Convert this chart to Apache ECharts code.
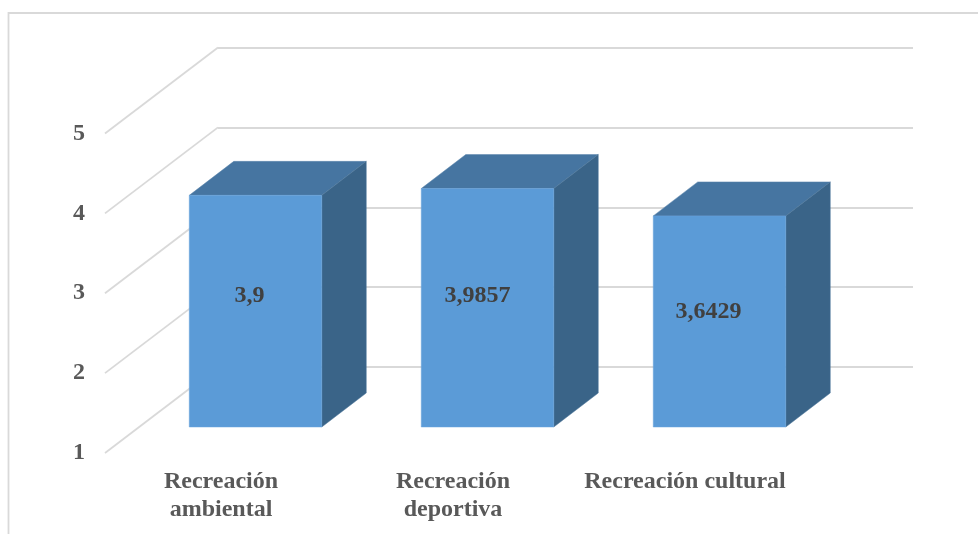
<!DOCTYPE html>
<html>
<head>
<meta charset="utf-8">
<style>html,body{margin:0;padding:0;background:#fff}#c{width:978px;height:534px}</style>
<script src="https://cdn.jsdelivr.net/npm/echarts@6/dist/echarts.min.js"></script>
</head>
<body>
<div id="c"></div>
<script>
var categories = ['Recreación\nambiental', 'Recreación\ndeportiva', 'Recreación cultural'];
var values = [3.9, 3.9857, 3.6429];
var yTicks = [1, 2, 3, 4, 5];

// Layout of the pseudo-3D projection (pixels)
var wall = { dx: 113, dy: -86 };
var barPlane = { dx: 34.5, dy: -26 };
var barDepth = { dx: 44.5, dy: -34 };
var barWidth = 132.5;
var labelShift = [[-6, -15], [-10, -12], [-11, -10]];

var font = '"Liberation Serif", "Times New Roman", serif';
var gridColor = '#D9D9D9';

var chart = echarts.init(document.getElementById('c'), null, { renderer: 'canvas' });

function renderDiagonal(params, api) {
  var p = api.coord([0, api.value(0)]);
  var x0 = params.coordSys.x;
  return {
    type: 'line',
    shape: { x1: x0, y1: p[1], x2: x0 + wall.dx, y2: p[1] + wall.dy },
    style: { stroke: gridColor, lineWidth: 1.8 }
  };
}

function renderBar(params, api) {
  var i = api.value(0);
  var top = api.coord([i, api.value(1)]);
  var base = api.coord([i, yTicks[0]]);
  var xL = top[0] + barPlane.dx - barWidth / 2;
  var xR = xL + barWidth;
  var yT = top[1] + barPlane.dy;
  var yB = base[1] + barPlane.dy;
  var d = barDepth;
  var s = labelShift[params.dataIndex];
  return {
    type: 'group',
    children: [
      { type: 'polygon', shape: { points: [[xL, yT], [xR, yT], [xR + d.dx, yT + d.dy], [xL + d.dx, yT + d.dy]] },
        style: { fill: '#4675A1', stroke: '#5C86AD', lineWidth: 0.5 } },
      { type: 'polygon', shape: { points: [[xR, yT], [xR + d.dx, yT + d.dy], [xR + d.dx, yB + d.dy], [xR, yB]] },
        style: { fill: '#3A6488', stroke: '#4B7499', lineWidth: 0.5 } },
      { type: 'rect', shape: { x: xL, y: yT, width: barWidth, height: yB - yT },
        style: { fill: '#5B9BD7', stroke: '#6AA5DC', lineWidth: 0.5 } },
      { type: 'text', x: (xL + xR) / 2 + s[0], y: (yT + yB) / 2 + s[1],
        style: { text: String(api.value(1)).replace('.', ','), fill: '#404040',
          font: 'bold 24px ' + font, align: 'center', verticalAlign: 'middle' } }
    ]
  };
}

chart.setOption({
  animation: false,
  backgroundColor: '#ffffff',
  graphic: [{
    type: 'polyline',
    shape: { points: [[8.5, 534], [8.5, 13], [978, 13]] },
    style: { stroke: gridColor, lineWidth: 1.8, fill: null },
    silent: true
  }],
  grid: [
    { left: 105, top: 133.5, width: 696, height: 319.5 },
    { left: 218, top: 47.5, width: 695, height: 319.5 }
  ],
  xAxis: [
    { type: 'category', gridIndex: 0, data: categories,
      axisLine: { show: false }, axisTick: { show: false }, splitLine: { show: false },
      axisLabel: { interval: 0, margin: 15, color: '#595959', lineHeight: 28,
        fontFamily: font, fontWeight: 'bold', fontSize: 24 } },
    { type: 'value', gridIndex: 1, min: 0, max: 1, show: false }
  ],
  yAxis: [
    { type: 'value', gridIndex: 0, min: yTicks[0], max: yTicks[yTicks.length - 1], interval: 1,
      axisLine: { show: false }, axisTick: { show: false }, splitLine: { show: false },
      axisLabel: { margin: 20, padding: [3, 0, 0, 0], color: '#595959', fontFamily: font, fontWeight: 'bold', fontSize: 24 } },
    { type: 'value', gridIndex: 1, min: yTicks[0], max: yTicks[yTicks.length - 1], interval: 1,
      axisLine: { show: false }, axisTick: { show: false }, axisLabel: { show: false },
      splitLine: { show: true, lineStyle: { color: gridColor, width: 1.8 } } }
  ],
  series: [
    { type: 'custom', xAxisIndex: 0, yAxisIndex: 0, z: 2, silent: true, clip: false,
      coordinateSystem: 'cartesian2d', renderItem: renderDiagonal,
      encode: { y: 0 }, data: yTicks.map(function (t) { return [t]; }) },
    { type: 'custom', xAxisIndex: 0, yAxisIndex: 0, z: 3, silent: true, clip: false,
      coordinateSystem: 'cartesian2d', renderItem: renderBar,
      encode: { x: 0, y: 1 }, data: values.map(function (v, i) { return [i, v]; }) }
  ]
});
</script>
</body>
</html>
